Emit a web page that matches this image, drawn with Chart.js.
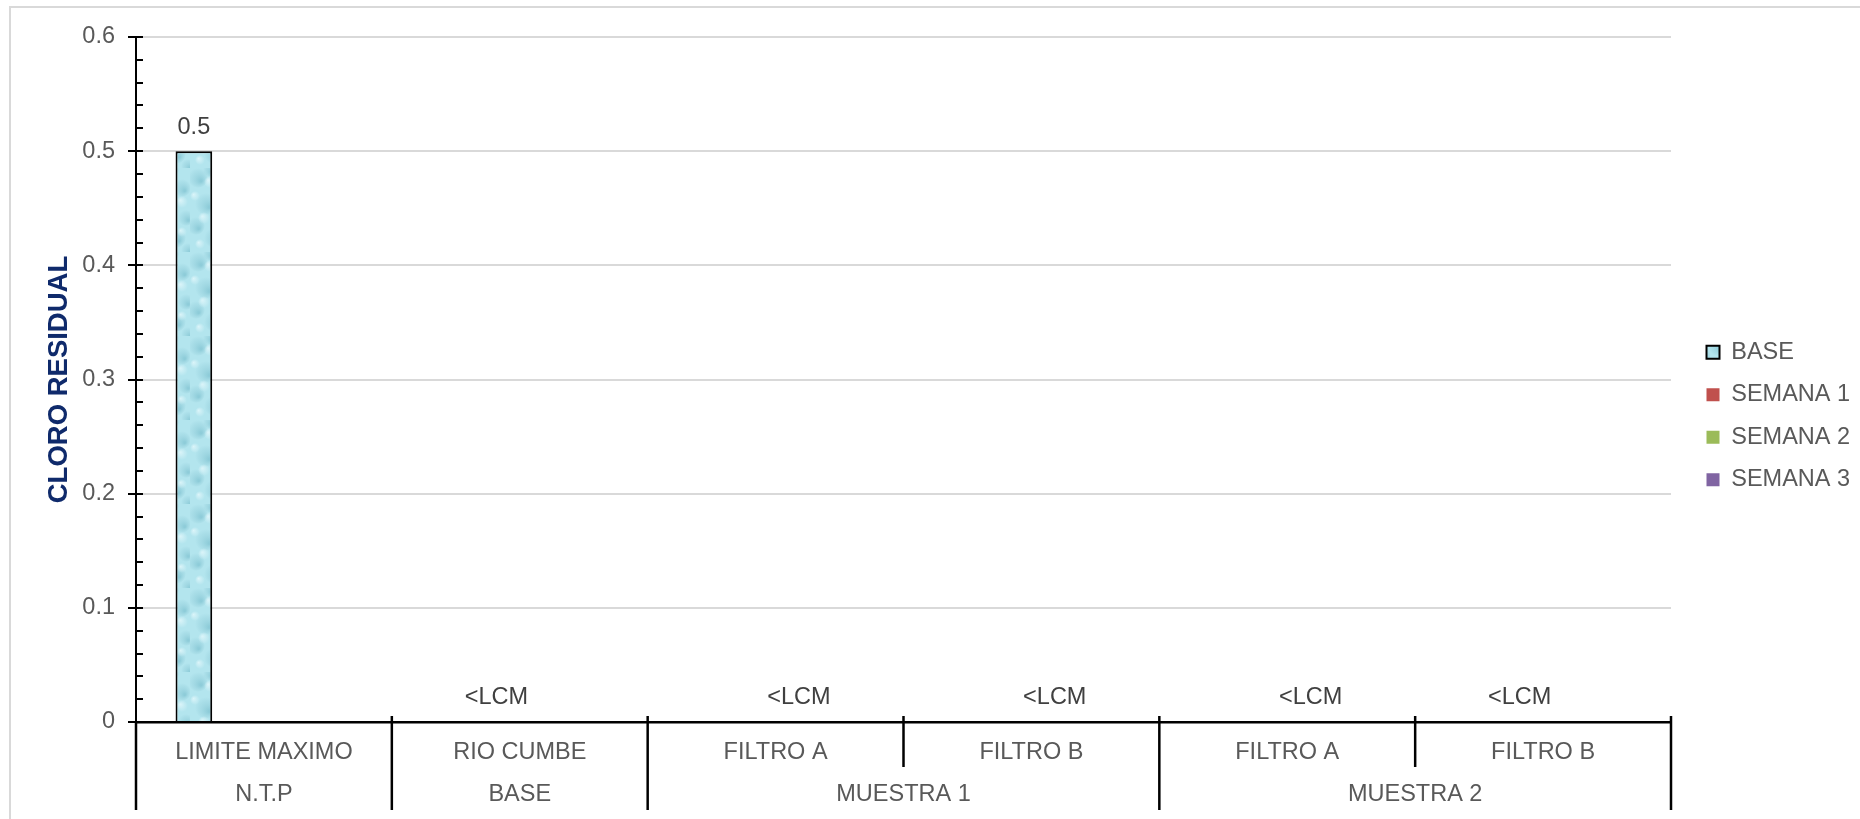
<!DOCTYPE html>
<html>
<head>
<meta charset="utf-8">
<script src="https://cdn.jsdelivr.net/npm/chart.js@4.4.1/dist/chart.umd.min.js"></script>
<style>
  html, body { margin: 0; padding: 0; background: #ffffff; }
  #wrap { width: 1860px; height: 819px; position: relative; }
</style>
</head>
<body>
<div id="wrap"><canvas id="chart" width="1860" height="819"></canvas></div>
<script>
// ---- data ----
const categories = ['LIMITE MAXIMO', 'RIO CUMBE', 'FILTRO A', 'FILTRO B', 'FILTRO A', 'FILTRO B'];
const groupLabels = ['N.T.P', 'BASE', 'MUESTRA 1', 'MUESTRA 2'];
const groupSpans = [1, 1, 2, 2];
const seriesNames = ['BASE', 'SEMANA 1', 'SEMANA 2', 'SEMANA 3'];
const baseValues = [0.5, null, null, null, null, null];
const semana1Values = [null, 0, null, null, null, 0];
const semana2Values = [null, null, 0, 0, 0, null];
const semana3Values = [null, null, null, null, null, null];
const yMin = 0, yMax = 0.6, yStep = 0.1, yMinorStep = 0.02;
const belowLimitText = '<LCM';   // value reported below the quantification limit
const yTitle = 'CLORO RESIDUAL';

const FONT = "'Liberation Sans', Arial, sans-serif";
const FONT_SIZE = 23.5;
const GREY = '#595959';
const DARK = '#404040';

// water-texture fill for the BASE bar
function makeWaterPattern() {
  const c = document.createElement('canvas');
  c.width = 38; c.height = 84;
  const g = c.getContext('2d');
  g.fillStyle = '#b3e5ee';
  g.fillRect(0, 0, 38, 84);
  const dark = [[8, 10, 10], [30, 20, 9], [16, 36, 11], [34, 50, 8], [6, 58, 9], [24, 70, 10], [36, 82, 7], [20, 2, 7]];
  dark.forEach(([x, y, r]) => {
    const gr = g.createRadialGradient(x + r * 0.3, y + r * 0.3, r * 0.1, x, y, r);
    gr.addColorStop(0, 'rgba(130,196,210,0.75)');
    gr.addColorStop(0.7, 'rgba(150,208,220,0.35)');
    gr.addColorStop(1, 'rgba(150,208,220,0)');
    g.fillStyle = gr;
    g.beginPath(); g.arc(x, y, r, 0, Math.PI * 2); g.fill();
  });
  const light = [[20, 14, 6], [5, 28, 5], [30, 34, 6], [14, 50, 6], [30, 64, 5], [10, 76, 5]];
  light.forEach(([x, y, r]) => {
    const gr = g.createRadialGradient(x - r * 0.3, y - r * 0.3, 0, x, y, r);
    gr.addColorStop(0, 'rgba(226,247,251,0.85)');
    gr.addColorStop(1, 'rgba(226,247,251,0)');
    g.fillStyle = gr;
    g.beginPath(); g.arc(x, y, r, 0, Math.PI * 2); g.fill();
  });
  return document.getElementById('chart').getContext('2d').createPattern(c, 'repeat');
}

const waterFill = makeWaterPattern();

// ---- layout constants ----
const PLOT_LEFT = 136, PLOT_TOP = 37, PLOT_BOTTOM = 722, PLOT_RIGHT = 1671;
const LEGEND_W = 150;

// frame around the chart
const framePlugin = {
  id: 'frame',
  beforeDraw(chart) {
    const ctx = chart.ctx;
    ctx.save();
    ctx.fillStyle = '#ffffff';
    ctx.fillRect(0, 0, chart.width, chart.height);
    ctx.strokeStyle = '#d9d9d9';
    ctx.lineWidth = 2;
    ctx.beginPath();
    ctx.moveTo(10, chart.height + 5);
    ctx.lineTo(10, 7);
    ctx.lineTo(chart.width + 5, 7);
    ctx.stroke();
    ctx.restore();
  }
};

// nudge the legend block to its place beside the plot
const legendPlacePlugin = {
  id: 'legendPlace',
  afterLayout(chart) {
    const lg = chart.legend;
    if (!lg) return;
    const dx = 16.5, dy = -12;
    lg.left += dx; lg.right += dx + 40;
    lg.top += dy; lg.bottom += dy;
  }
};

// axis ticks, category table and value labels
const annotatePlugin = {
  id: 'annotate',
  afterDraw(chart) {
    const ctx = chart.ctx;
    const x = chart.scales.x;
    const y = chart.scales.y;
    const area = chart.chartArea;
    ctx.save();

    // y axis: major ticks cross the axis, minor ticks inside
    ctx.strokeStyle = '#000000';
    ctx.lineWidth = 2;
    const nMinor = Math.round((yMax - yMin) / yMinorStep);
    const perMajor = Math.round(yStep / yMinorStep);
    for (let i = 0; i <= nMinor; i++) {
      const py = Math.round(y.getPixelForValue(yMin + i * yMinorStep));
      ctx.beginPath();
      if (i % perMajor === 0) {
        ctx.moveTo(area.left - 8, py); ctx.lineTo(area.left + 7, py);
      } else {
        ctx.moveTo(area.left, py); ctx.lineTo(area.left + 7, py);
      }
      ctx.stroke();
    }

    // category table separators
    const n = categories.length;
    const catW = (x.right - x.left) / n;
    const groupEdges = [0];
    groupSpans.reduce((acc, s) => { groupEdges.push(acc + s); return acc + s; }, 0);
    ctx.lineWidth = 2.5;
    for (let i = 0; i <= n; i++) {
      const px = x.left + i * catW;
      const isGroupEdge = groupEdges.includes(i);
      ctx.beginPath();
      ctx.moveTo(px, i === 0 ? area.bottom : area.bottom - 6);
      ctx.lineTo(px, isGroupEdge ? 810 : 767);
      ctx.stroke();
    }

    // group labels
    ctx.fillStyle = GREY;
    ctx.font = FONT_SIZE + 'px ' + FONT;
    ctx.textAlign = 'center';
    ctx.textBaseline = 'middle';
    for (let gi = 0; gi < groupLabels.length; gi++) {
      const a = groupEdges[gi], b = groupEdges[gi + 1];
      const cx = x.left + (a + b) / 2 * catW;
      ctx.fillText(groupLabels[gi], cx, 795);
    }

    // value labels above bars
    ctx.fillStyle = DARK;
    chart.data.datasets.forEach((ds, di) => {
      const meta = chart.getDatasetMeta(di);
      ds.data.forEach((v, idx) => {
        if (v === null || v === undefined) return;
        const el = meta.data[idx];
        const txt = v === 0 ? belowLimitText : String(v);
        ctx.fillText(txt, el.x, el.y - 24);
      });
    });
    ctx.restore();
  }
};

const datasetColors = [waterFill, '#c0504d', '#9bbb59', '#8064a2'];
const datasetValues = [baseValues, semana1Values, semana2Values, semana3Values];

new Chart(document.getElementById('chart'), {
  type: 'bar',
  data: {
    labels: categories,
    datasets: seriesNames.map((name, i) => ({
      label: name,
      data: datasetValues[i],
      backgroundColor: datasetColors[i],
      borderColor: i === 0 ? '#000000' : datasetColors[i],
      borderWidth: i === 0 ? 2 : 0,
      categoryPercentage: 0.73,
      barPercentage: 0.786
    }))
  },
  options: {
    responsive: false,
    animation: false,
    devicePixelRatio: 1,
    layout: { padding: { top: PLOT_TOP, left: 0, bottom: 0, right: 1860 - PLOT_RIGHT - LEGEND_W } },
    plugins: {
      legend: {
        position: 'right',
        align: 'center',
        maxWidth: LEGEND_W,
        labels: {
          boxWidth: 13,
          boxHeight: 13,
          padding: 19,
          color: GREY,
          font: { family: FONT, size: FONT_SIZE }
        }
      },
      tooltip: { enabled: false },
      title: { display: false }
    },
    scales: {
      x: {
        offset: true,
        grid: { display: false, drawTicks: false },
        border: { display: true, color: '#000000', width: 2.5 },
        ticks: {
          color: GREY,
          font: { family: FONT, size: FONT_SIZE },
          padding: 16,
          maxRotation: 0,
          autoSkip: false
        },
        afterFit(scale) { scale.height = 819 - PLOT_BOTTOM; }
      },
      y: {
        min: yMin,
        max: yMax,
        ticks: {
          stepSize: yStep,
          color: GREY,
          font: { family: FONT, size: FONT_SIZE },
          padding: 21
        },
        grid: { color: '#d9d9d9', lineWidth: 2, drawTicks: false },
        border: { display: true, color: '#000000', width: 2 },
        title: {
          display: true,
          text: yTitle,
          color: '#0f2a6b',
          font: { family: FONT, size: 27.5, weight: 'bold' },
          padding: { top: 42.5, bottom: 0 }
        },
        afterFit(scale) { scale.width = PLOT_LEFT; }
      }
    }
  },
  plugins: [framePlugin, legendPlacePlugin, annotatePlugin]
});
</script>
</body>
</html>
